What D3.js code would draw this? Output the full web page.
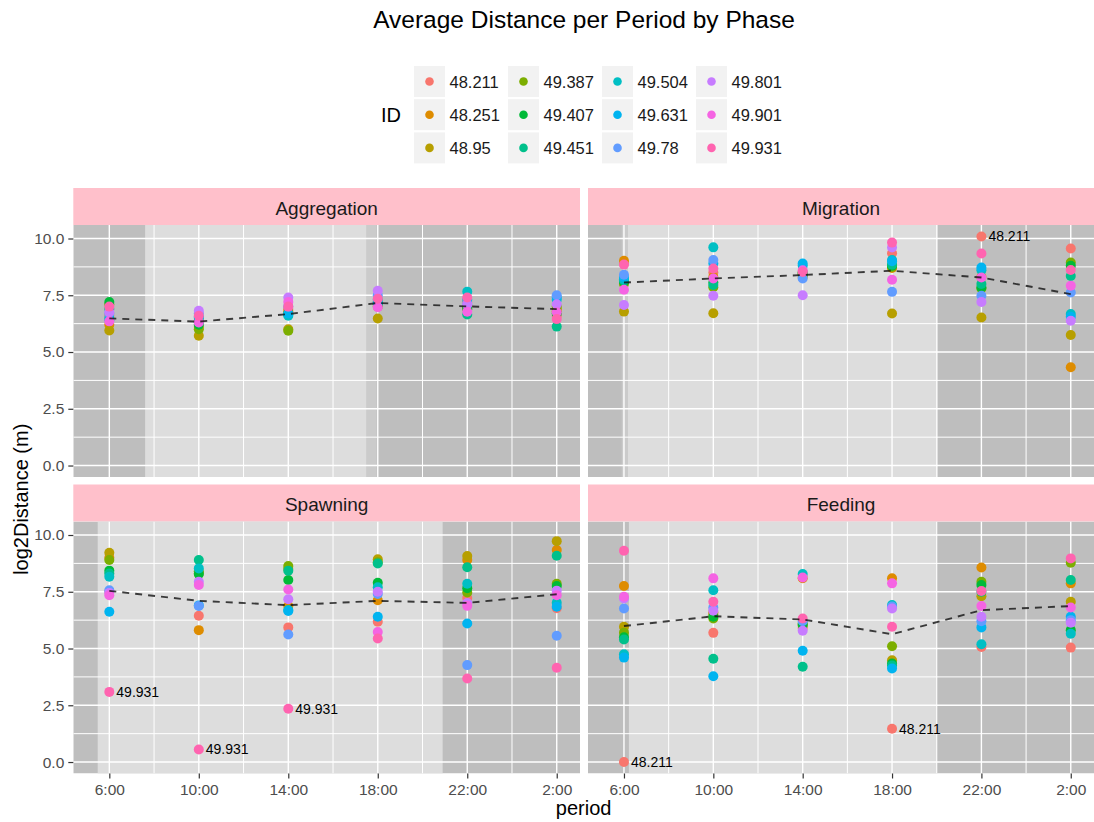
<!DOCTYPE html>
<html>
<head>
<meta charset="utf-8">
<script src="https://cdnjs.cloudflare.com/ajax/libs/d3/7.8.5/d3.min.js"></script>
<style>
  body { margin: 0; background: #fff; }
  svg { display: block; }
  text { font-family: "Liberation Sans", Arial, Helvetica, sans-serif; }
</style>
</head>
<body>
<svg id="chart" width="1094" height="822"></svg>
<script>
// ---- data -------------------------------------------------------------
const periods = ["6:00", "10:00", "14:00", "18:00", "22:00", "2:00"];
const periodHours = [6, 10, 14, 18, 22, 26];           // 2:00 falls on the next day
const ids = ["48.211", "48.251", "48.95", "49.387", "49.407", "49.451",
             "49.504", "49.631", "49.78", "49.801", "49.901", "49.931"];
const idColors = ["#F8766D", "#DE8C00", "#B79F00", "#7CAE00", "#00BA38", "#00C08B",
                  "#00BFC4", "#00B4F0", "#619CFF", "#C77CFF", "#F564E3", "#FF64B0"];
const phases = ["Aggregation", "Migration", "Spawning", "Feeding"];

// log2 distance per fish (rows follow ids) and period (columns follow periods)
const aggregation = [
  [6.60, 6.40, 6.90, 7.20, 7.20, 6.60],
  [6.20, 6.10, 6.80, 7.10, 7.00, 6.80],
  [5.95, 5.72, 6.00, 6.48, 6.90, 6.90],
  [7.10, 6.00, 5.94, 7.00, 7.00, 7.00],
  [7.20, 6.20, 6.70, 7.10, 6.90, 6.70],
  [6.90, 6.30, 6.65, 7.20, 6.65, 6.12],
  [6.50, 6.50, 6.60, 7.30, 7.66, 7.30],
  [6.40, 6.55, 6.70, 7.15, 7.30, 7.40],
  [6.70, 6.70, 7.00, 7.50, 7.10, 7.50],
  [6.75, 6.82, 7.40, 7.70, 7.10, 7.10],
  [6.35, 6.30, 7.20, 6.97, 6.77, 6.75],
  [7.00, 6.60, 7.00, 7.35, 7.40, 6.45]
];
const migration = [
  [8.90, 8.50, 8.40, 9.35, 10.09, 9.56],
  [9.02, 8.30, 8.50, 8.70, 8.30, 4.33],
  [6.78, 6.71, 8.30, 6.70, 6.52, 5.75],
  [8.00, 7.85, 8.45, 8.75, 7.80, 8.94],
  [8.10, 8.06, 8.40, 8.80, 7.84, 8.80],
  [8.15, 7.95, 8.50, 8.85, 8.00, 8.35],
  [8.20, 9.61, 8.80, 9.05, 8.60, 6.67],
  [8.30, 8.90, 8.90, 9.00, 8.72, 6.55],
  [8.40, 9.05, 8.24, 7.65, 7.48, 7.62],
  [7.07, 7.48, 7.50, 9.60, 7.20, 6.38],
  [7.74, 8.24, 8.60, 8.18, 8.28, 7.92],
  [8.85, 8.68, 8.53, 9.82, 9.34, 8.61]
];
const spawning = [
  [7.50, 6.44, 5.93, 6.18, 7.22, 6.77],
  [9.00, 5.81, 6.87, 7.13, 8.90, 9.34],
  [9.22, 8.30, 8.50, 8.93, 9.07, 9.73],
  [8.90, 8.40, 8.63, 8.80, 7.47, 7.85],
  [8.43, 8.28, 8.02, 7.90, 7.66, 7.75],
  [8.30, 8.90, 8.43, 8.75, 8.58, 9.09],
  [8.16, 8.53, 6.70, 7.70, 7.85, 7.02],
  [6.62, 6.90, 6.65, 6.40, 6.10, 6.84],
  [7.57, 6.87, 5.62, 7.40, 4.27, 5.56],
  [7.45, 7.94, 7.17, 7.50, 7.00, 7.55],
  [7.35, 7.80, 7.60, 5.73, 6.88, 7.35],
  [3.09, 0.55, 2.35, 5.44, 3.68, 4.15]
];
const feeding = [
  [0.00, 5.69, 5.90, 1.47, 5.07, 5.04],
  [7.75, 6.60, 8.10, 8.09, 8.57, 7.87],
  [5.96, 6.50, 6.00, 4.48, 7.30, 7.06],
  [5.70, 6.32, 6.10, 5.10, 7.94, 8.78],
  [5.50, 6.40, 6.05, 4.34, 7.80, 5.81],
  [5.40, 4.55, 4.20, 4.25, 7.50, 8.02],
  [4.75, 7.57, 8.28, 6.92, 5.19, 5.65],
  [4.60, 3.78, 4.90, 4.12, 5.93, 6.40],
  [6.76, 6.80, 6.20, 6.85, 6.20, 6.25],
  [7.20, 6.66, 5.78, 6.76, 6.40, 6.14],
  [7.28, 8.09, 8.13, 7.87, 6.87, 6.81],
  [9.31, 7.06, 6.32, 5.96, 7.53, 8.97]
];

// mean log2 distance per period (dashed trend)
const aggregationMean = [6.48, 6.34, 6.67, 7.16, 7.01, 6.89];
const migrationMean   = [8.06, 8.24, 8.39, 8.58, 8.28, 7.55];
const spawningMean    = [7.54, 7.10, 6.91, 7.10, 7.01, 7.39];
const feedingMean     = [5.99, 6.42, 6.28, 5.63, 6.69, 6.87];

// daylight window per phase, in hours
const dayStart = [7.60, 6.18, 5.48, 6.22];
const dayEnd   = [17.50, 20.05, 20.90, 20.02];
// twilight strips (phase index, from, to)
const twilightPhase = [0, 1];
const twilightFrom  = [17.50, 5.90];
const twilightTo    = [17.95, 6.18];

// labelled outliers
const labelPhase  = ["Migration", "Spawning", "Spawning", "Spawning", "Feeding", "Feeding"];
const labelPeriod = ["22:00", "6:00", "10:00", "14:00", "6:00", "18:00"];
const labelId     = ["48.211", "49.931", "49.931", "49.931", "48.211", "48.211"];

const yTicks = [0, 2.5, 5, 7.5, 10];

// ---- layout -----------------------------------------------------------
const phaseValues = [aggregation, migration, spawning, feeding];
const phaseMeans = [aggregationMean, migrationMean, spawningMean, feedingMean];

const colX = [[73.3, 580], [588, 1094]];
const rowTop = [188, 484.5];
const stripH = 37, panelH = 252;

const svg = d3.select("#chart");
const DARK = "#bebebe", LIGHT = "#dddddd", MID = "#cbcbcb";

// title
svg.append("text")
  .attr("x", 584).attr("y", 27.5)
  .attr("text-anchor", "middle")
  .attr("font-size", 24.5).attr("fill", "#000")
  .text("Average Distance per Period by Phase");

// legend
const legend = svg.append("g");
legend.append("text")
  .attr("x", 381).attr("y", 121.5)
  .attr("font-size", 20).attr("fill", "#000")
  .text("ID");
ids.forEach((id, i) => {
  const col = Math.floor(i / 3), row = i % 3;
  const kx = 414 + col * 94, ky = 66 + row * 33.2;
  legend.append("rect")
    .attr("x", kx).attr("y", ky).attr("width", 31).attr("height", 31)
    .attr("fill", "#f2f2f2");
  legend.append("circle")
    .attr("cx", kx + 15.5).attr("cy", ky + 15.5).attr("r", 4.3)
    .attr("fill", idColors[i]);
  legend.append("text")
    .attr("x", kx + 35.5).attr("y", ky + 15.5 + 6)
    .attr("font-size", 16.5).attr("fill", "#1a1a1a")
    .text(id);
});

const color = d3.scaleOrdinal().domain(ids).range(idColors);

phases.forEach((phase, p) => {
  const c = p % 2, r = Math.floor(p / 2);
  const [x0, x1] = colX[c];
  const sTop = rowTop[r], pTop = sTop + stripH, pBot = pTop + panelH;

  const x = d3.scaleLinear().domain([4.39, 27.04]).range([x0, x1]);
  const y = d3.scaleLinear().domain([-0.505, 10.595]).range([pBot, pTop]);

  const g = svg.append("g");
  const clipId = "clip" + p;
  g.append("clipPath").attr("id", clipId)
    .append("rect").attr("x", x0).attr("y", pTop).attr("width", x1 - x0).attr("height", panelH);

  // strip
  g.append("rect")
    .attr("x", x0).attr("y", sTop).attr("width", x1 - x0).attr("height", stripH)
    .attr("fill", "#ffc0cb");
  g.append("text")
    .attr("x", (x0 + x1) / 2).attr("y", sTop + 26.5)
    .attr("text-anchor", "middle").attr("font-size", 19).attr("fill", "#1a1a1a")
    .text(phase);

  // night / day background
  const bg = g.append("g").attr("clip-path", `url(#${clipId})`);
  bg.append("rect")
    .attr("x", x0).attr("y", pTop).attr("width", x1 - x0).attr("height", panelH)
    .attr("fill", DARK);
  bg.append("rect")
    .attr("x", x(dayStart[p])).attr("y", pTop)
    .attr("width", x(dayEnd[p]) - x(dayStart[p])).attr("height", panelH)
    .attr("fill", LIGHT);
  twilightPhase.forEach((tp, k) => {
    if (tp !== p) return;
    bg.append("rect")
      .attr("x", x(twilightFrom[k])).attr("y", pTop)
      .attr("width", x(twilightTo[k]) - x(twilightFrom[k])).attr("height", panelH)
      .attr("fill", MID);
  });

  // grid
  const minorX = d3.pairs(periodHours).map(([a, b]) => (a + b) / 2);
  const minorY = d3.pairs(yTicks).map(([a, b]) => (a + b) / 2);
  bg.selectAll(".gmx").data(minorX).join("line")
    .attr("x1", d => x(d)).attr("x2", d => x(d)).attr("y1", pTop).attr("y2", pBot)
    .attr("stroke", "#fff").attr("stroke-width", 1);
  bg.selectAll(".gmy").data(minorY).join("line")
    .attr("y1", d => y(d)).attr("y2", d => y(d)).attr("x1", x0).attr("x2", x1)
    .attr("stroke", "#fff").attr("stroke-width", 1);
  bg.selectAll(".gx").data(periodHours).join("line")
    .attr("x1", d => x(d)).attr("x2", d => x(d)).attr("y1", pTop).attr("y2", pBot)
    .attr("stroke", "#fff").attr("stroke-width", 1.4);
  bg.selectAll(".gy").data(yTicks).join("line")
    .attr("y1", d => y(d)).attr("y2", d => y(d)).attr("x1", x0).attr("x2", x1)
    .attr("stroke", "#fff").attr("stroke-width", 1.4);

  // points
  const vals = phaseValues[p];
  const pts = [];
  ids.forEach((id, i) => {
    periodHours.forEach((h, j) => {
      if (vals[i][j] != null) pts.push({ id, h, v: vals[i][j] });
    });
  });
  bg.selectAll(".pt").data(pts).join("circle")
    .attr("cx", d => x(d.h)).attr("cy", d => y(d.v)).attr("r", 5)
    .attr("fill", d => color(d.id));

  // mean trend
  const line = d3.line().x((d, j) => x(periodHours[j])).y(d => y(d));
  bg.append("path")
    .datum(phaseMeans[p])
    .attr("d", line)
    .attr("fill", "none")
    .attr("stroke", "#111").attr("stroke-opacity", 0.8)
    .attr("stroke-width", 1.9)
    .attr("stroke-dasharray", "7,6");

  // outlier labels
  labelPhase.forEach((lp, k) => {
    if (lp !== phase) return;
    const j = periods.indexOf(labelPeriod[k]);
    const i = ids.indexOf(labelId[k]);
    g.append("text")
      .attr("x", x(periodHours[j]) + 7).attr("y", y(vals[i][j]))
      .attr("dy", "0.35em").attr("font-size", 14).attr("fill", "#000")
      .text(labelId[k]);
  });

  // axes
  if (c === 0) {
    const ya = g.append("g").attr("transform", `translate(${x0},0)`)
      .call(d3.axisLeft(y).tickValues(yTicks).tickFormat(d3.format(".1f"))
        .tickSize(5).tickPadding(4));
    ya.select(".domain").remove();
    ya.selectAll("line").attr("stroke", "#333").attr("stroke-width", 1.2);
    ya.selectAll("text").attr("font-size", 15.5).attr("fill", "#4d4d4d")
      .attr("font-family", "Liberation Sans, Arial, sans-serif");
  }
  if (r === 1) {
    const xa = g.append("g").attr("transform", `translate(0,${pBot})`)
      .call(d3.axisBottom(x).tickValues(periodHours).tickFormat((d, j) => periods[j])
        .tickSize(5).tickPadding(5));
    xa.select(".domain").remove();
    xa.selectAll("line").attr("stroke", "#333").attr("stroke-width", 1.2);
    xa.selectAll("text").attr("font-size", 15.5).attr("fill", "#4d4d4d")
      .attr("font-family", "Liberation Sans, Arial, sans-serif");
  }
});

// axis titles
svg.append("text")
  .attr("x", (colX[0][0] + colX[1][1]) / 2).attr("y", 815)
  .attr("text-anchor", "middle").attr("font-size", 20).attr("fill", "#000")
  .text("period");
svg.append("text")
  .attr("transform", `translate(28,${(rowTop[0] + stripH + rowTop[1] + stripH + panelH) / 2}) rotate(-90)`)
  .attr("text-anchor", "middle").attr("font-size", 20).attr("fill", "#000")
  .text("log2Distance (m)");
</script>
</body>
</html>
